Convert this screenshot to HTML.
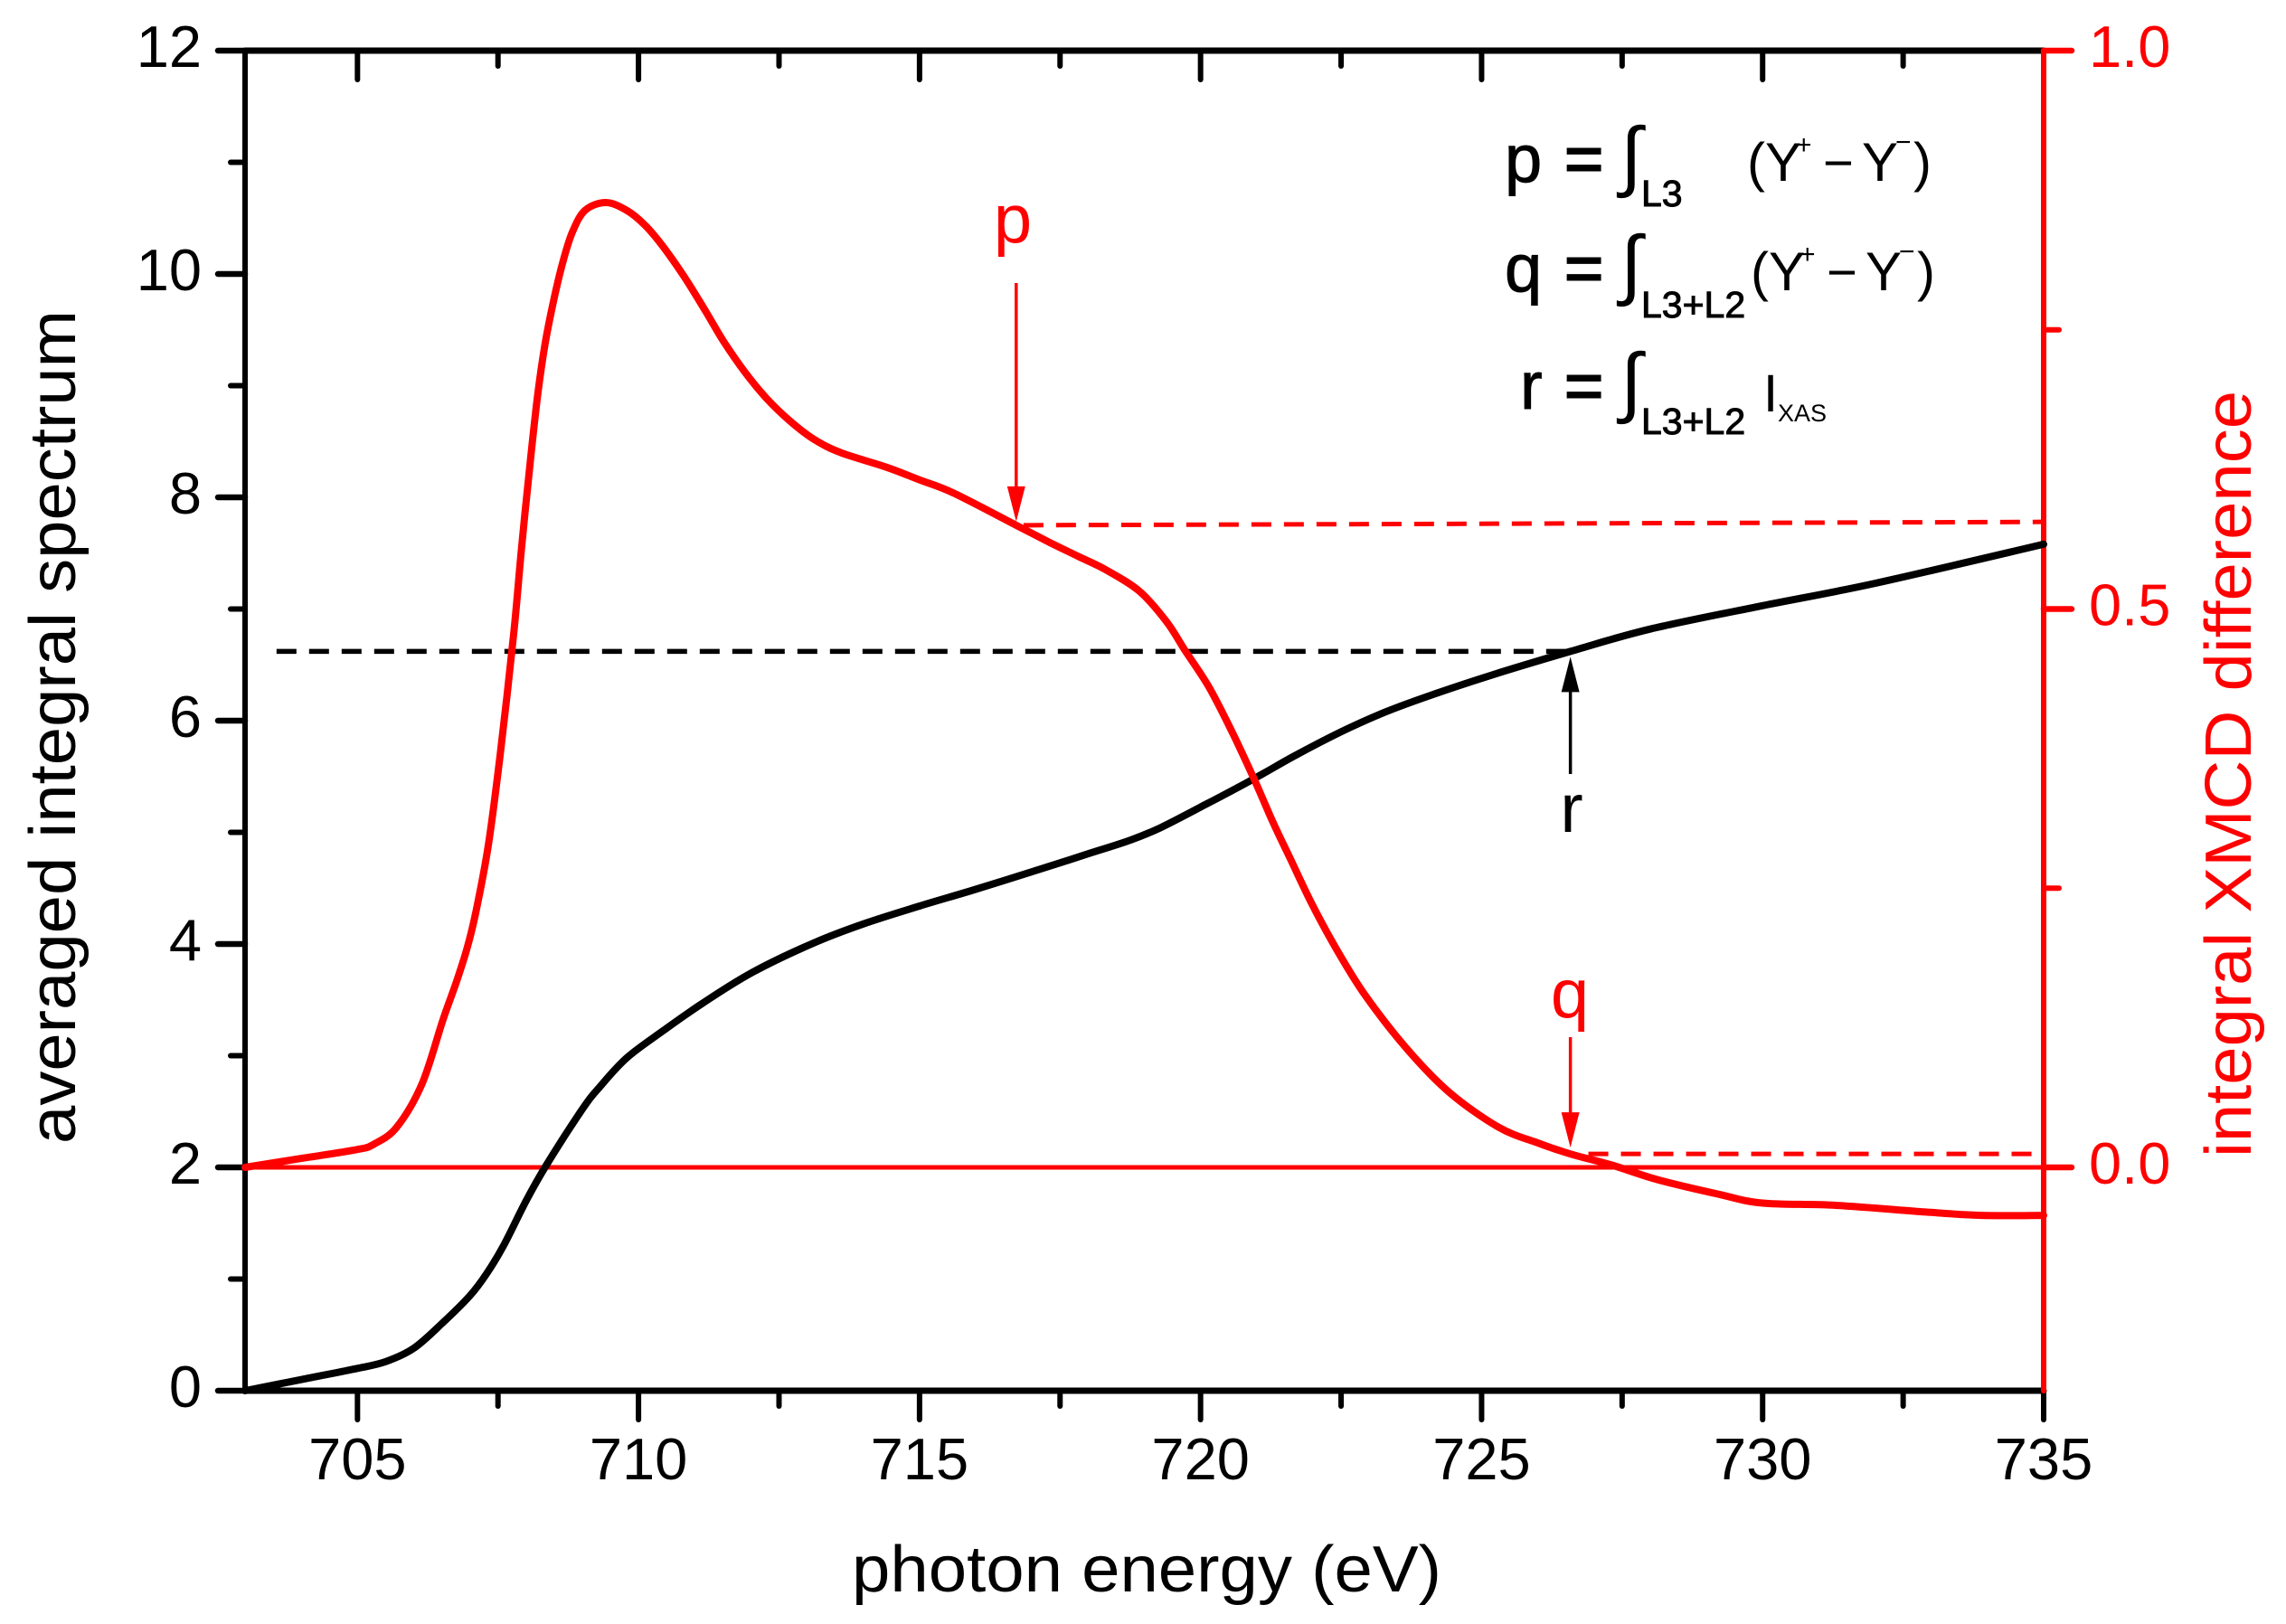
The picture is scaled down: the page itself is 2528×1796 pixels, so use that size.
<!DOCTYPE html>
<html>
<head>
<meta charset="utf-8">
<style>
html,body{margin:0;padding:0;background:#fff;width:2528px;height:1796px;overflow:hidden}
svg{display:block}
text{font-family:"Liberation Sans",sans-serif}
</style>
</head>
<body>
<svg id="chart" xmlns="http://www.w3.org/2000/svg" width="2528" height="1796" viewBox="0 0 2528 1796">
  <rect width="2528" height="1796" fill="#fff"/>
  <g id="axes"></g>
  <g id="marks"></g>

  <text x="1268" y="1760" font-size="72" text-anchor="middle" textLength="652" lengthAdjust="spacingAndGlyphs">photon energy (eV)</text>
  <text transform="translate(83,804) rotate(-90)" font-size="72" text-anchor="middle" textLength="922" lengthAdjust="spacingAndGlyphs">averaged integral spectrum</text>
  <text transform="translate(2489,856) rotate(-90)" font-size="72" fill="#f00" text-anchor="middle" textLength="848" lengthAdjust="spacingAndGlyphs">integral XMCD difference</text>

  <text x="1120" y="268" font-size="76" fill="#f00" text-anchor="middle">p</text>
  <text x="1736" y="1125" font-size="76" fill="#f00" text-anchor="middle">q</text>
  <text x="1738" y="920" font-size="76" text-anchor="middle">r</text>

  <g>
    <text x="1664" y="201" font-size="74" stroke="#000" stroke-width="1">p</text>
    <text x="1730" y="201" font-size="74" stroke="#000" stroke-width="2">=</text>
    <text x="1792" y="201" font-size="86" font-family="Liberation Serif">∫</text>
    <text x="1815" y="228" font-size="41" stroke="#000" stroke-width="1">L3</text>
    <text x="1932" y="200" font-size="60">(Y</text>
    <text x="1986" y="170" font-size="30">+</text>
    <text x="2016" y="200" font-size="58">−</text>
    <text x="2059" y="200" font-size="60">Y</text>
    <text x="2096" y="167" font-size="30">−</text>
    <text x="2116" y="200" font-size="60">)</text>
  </g>
  <g>
    <text x="1664" y="322" font-size="74" stroke="#000" stroke-width="1">q</text>
    <text x="1730" y="322" font-size="74" stroke="#000" stroke-width="2">=</text>
    <text x="1792" y="321" font-size="86" font-family="Liberation Serif">∫</text>
    <text x="1815" y="351" font-size="41" stroke="#000" stroke-width="1">L3+L2</text>
    <text x="1936" y="321" font-size="60">(Y</text>
    <text x="1990" y="291" font-size="30">+</text>
    <text x="2020" y="321" font-size="58">−</text>
    <text x="2063" y="321" font-size="60">Y</text>
    <text x="2100" y="288" font-size="30">−</text>
    <text x="2120" y="321" font-size="60">)</text>
  </g>
  <g>
    <text x="1681" y="452" font-size="74" stroke="#000" stroke-width="1">r</text>
    <text x="1730" y="452" font-size="74" stroke="#000" stroke-width="2">=</text>
    <text x="1792" y="451" font-size="86" font-family="Liberation Serif">∫</text>
    <text x="1815" y="480" font-size="41" stroke="#000" stroke-width="1">L3+L2</text>
    <text x="1950" y="455" font-size="58">I</text>
    <text x="1966" y="466" font-size="27">XAS</text>
  </g>
</svg>

<script>
var xTicks = [705, 710, 715, 720, 725, 730, 735];
var xMinorTicks = [707.5, 712.5, 717.5, 722.5, 727.5, 732.5];
var yLeftTicks = [0, 2, 4, 6, 8, 10, 12];
var yLeftMinorTicks = [1, 3, 5, 7, 9, 11];
var yRightTicks = ["0.0", "0.5", "1.0"];
var yRightMinorTicks = [0.25, 0.75];

var blackEnergy = [703, 704, 705, 705.5, 706, 706.5, 707, 707.3, 707.6, 708, 708.36, 709, 709.31, 709.79, 710.43, 711.14, 712.04, 713.12, 714, 715, 716, 717.14, 717.95, 718.75, 719.28, 720.09, 720.95, 721.69, 722.5, 723.3, 724.11, 725.19, 726.58, 728, 730, 732, 735];
var blackSignal = [0, 0.1, 0.2, 0.26, 0.38, 0.6, 0.85, 1.05, 1.3, 1.7, 2.02, 2.52, 2.72, 2.98, 3.22, 3.47, 3.75, 4.01, 4.18, 4.34, 4.49, 4.67, 4.8, 4.93, 5.04, 5.25, 5.48, 5.69, 5.9, 6.08, 6.23, 6.41, 6.62, 6.82, 7.03, 7.23, 7.58];

var redEnergy = [703, 704, 705, 705.3, 705.7, 706.15, 706.52, 706.76, 706.96, 707.12, 707.33, 707.54, 707.78, 707.92, 708.08, 708.21, 708.34, 708.49, 708.65, 708.82, 709.05, 709.42, 709.79, 710.11, 710.43, 710.82, 711.19, 711.51, 711.88, 712.27, 712.68, 713.12, 713.6, 714.41, 714.98, 715.6, 716.72, 717.3, 717.83, 718.32, 718.91, 719.39, 719.71, 720.15, 720.57, 720.95, 721.28, 721.6, 721.97, 722.4, 722.93, 723.69, 724.43, 725.3, 725.99, 726.58, 727.32, 728.13, 729.21, 730, 731.3, 732.9, 733.9, 735];
var redSignal = [0, 0.008, 0.016, 0.021, 0.036, 0.075, 0.132, 0.166, 0.198, 0.232, 0.289, 0.37, 0.478, 0.555, 0.635, 0.693, 0.738, 0.776, 0.81, 0.837, 0.857, 0.864, 0.857, 0.844, 0.825, 0.797, 0.767, 0.74, 0.713, 0.689, 0.669, 0.652, 0.64, 0.627, 0.616, 0.604, 0.575, 0.56, 0.547, 0.535, 0.516, 0.489, 0.464, 0.43, 0.389, 0.348, 0.31, 0.276, 0.237, 0.197, 0.154, 0.105, 0.067, 0.036, 0.022, 0.012, 0.002, -0.011, -0.024, -0.032, -0.034, -0.04, -0.043, -0.043];

var pLevel = [716.85, 735, 0.575, 0.578];
var qLevel = [726.9, 735, 0.012, 0.012];
var rLevel = [703.56, 726.6, 6.62];
var zeroLevel = [703, 735, 0];

var plot = {left: 271, right: 2260, top: 56, bottom: 1538};
function sx(v) { return plot.left + (v - 703) / 32 * (plot.right - plot.left); }
function syL(v) { return plot.bottom - v / 12 * (plot.bottom - plot.top); }
function syR(v) { return plot.bottom - (v + 0.2) / 1.2 * (plot.bottom - plot.top); }

var NS = "http://www.w3.org/2000/svg";
var axes = document.getElementById("axes");
var marks = document.getElementById("marks");

function mk(parent, tag, props, txt) {
  var n = document.createElementNS(NS, tag);
  for (var k in props) n.setAttribute(k, props[k]);
  if (txt !== undefined) n.textContent = txt;
  parent.appendChild(n);
  return n;
}
function seg(parent, x1, y1, x2, y2, col, w, cap) {
  return mk(parent, "line", {x1: x1, y1: y1, x2: x2, y2: y2, stroke: col, "stroke-width": w, "stroke-linecap": cap || "round"});
}
function curve(xs, ys, fy, col) {
  var pts = xs.map(function (x, i) { return [sx(x), fy(ys[i])]; });
  var d = "M" + pts[0][0].toFixed(1) + " " + pts[0][1].toFixed(1);
  for (var i = 0; i < pts.length - 1; i++) {
    var p0 = pts[Math.max(i - 1, 0)], p1 = pts[i], p2 = pts[i + 1], p3 = pts[Math.min(i + 2, pts.length - 1)];
    var c1x = p1[0] + (p2[0] - p0[0]) / 6, c1y = p1[1] + (p2[1] - p0[1]) / 6;
    var c2x = p2[0] - (p3[0] - p1[0]) / 6, c2y = p2[1] - (p3[1] - p1[1]) / 6;
    d += "C" + c1x.toFixed(1) + " " + c1y.toFixed(1) + " " + c2x.toFixed(1) + " " + c2y.toFixed(1) + " " + p2[0].toFixed(1) + " " + p2[1].toFixed(1);
  }
  return mk(marks, "path", {d: d, fill: "none", stroke: col, "stroke-width": 8, "stroke-linejoin": "round", "stroke-linecap": "round"});
}
function arrow(xv, y1, y2, col) {
  var x = sx(xv), dir = y2 > y1 ? 1 : -1;
  seg(marks, x, y1, x, y2 - dir * 30, col, 3.5, "butt");
  return mk(marks, "path", {d: "M" + (x - 10) + " " + (y2 - dir * 39) + "L" + (x + 10) + " " + (y2 - dir * 39) + "L" + x + " " + y2 + "Z", fill: col});
}

var el;
el = seg(axes, plot.left, plot.top, plot.right, plot.top, "#000", 7);


el = seg(axes, plot.left, plot.bottom, plot.right, plot.bottom, "#000", 7);


el = seg(axes, plot.left, plot.top, plot.left, plot.bottom, "#000", 6);



xTicks.forEach(function (v) {
  var e = seg(axes, sx(v), plot.bottom, sx(v), plot.bottom + 32, "#000", 6);
  
  
  e = seg(axes, sx(v), plot.top, sx(v), plot.top + 32, "#000", 6);
  
  
  e = mk(axes, "text", {x: sx(v), y: plot.bottom + 98, "font-size": 65, "text-anchor": "middle"}, String(v));
  
  
});
xMinorTicks.forEach(function (v) {
  var e = seg(axes, sx(v), plot.bottom, sx(v), plot.bottom + 17, "#000", 6);
  
  
  e = seg(axes, sx(v), plot.top, sx(v), plot.top + 17, "#000", 6);
  
  
});
yLeftTicks.forEach(function (v) {
  var e = seg(axes, plot.left - 30, syL(v), plot.left, syL(v), "#000", 6.5);
  
  
  e = mk(axes, "text", {x: plot.left - 48, y: syL(v) + 18, "font-size": 65, "text-anchor": "end"}, String(v));
  
  
});
yLeftMinorTicks.forEach(function (v) {
  var e = seg(axes, plot.left - 16, syL(v), plot.left, syL(v), "#000", 6);
  
  
});
yRightTicks.forEach(function (t) {
  var v = parseFloat(t);
  var e = seg(axes, plot.right, syR(v), plot.right + 31, syR(v), "#f00", 6.5);
  
  
  e = mk(axes, "text", {x: plot.right + 50, y: syR(v) + 18, "font-size": 65, fill: "#f00"}, t);
  
  
});
yRightMinorTicks.forEach(function (v) {
  var e = seg(axes, plot.right, syR(v), plot.right + 17, syR(v), "#f00", 6);
  
  
});
el = seg(axes, plot.right, plot.top, plot.right, plot.bottom, "#f00", 6);



el = seg(marks, sx(zeroLevel[0]), syR(zeroLevel[2]), sx(zeroLevel[1]), syR(zeroLevel[2]), "#f00", 5, "butt");



el = seg(marks, sx(rLevel[0]), syL(rLevel[2]), sx(rLevel[1]), syL(rLevel[2]), "#000", 5.5, "butt");
el.setAttribute("stroke-dasharray", "22 14");



el = seg(marks, sx(pLevel[0]), syR(pLevel[2]), sx(pLevel[1]), syR(pLevel[3]), "#f00", 5, "butt");
el.setAttribute("stroke-dasharray", "22 14");



el = seg(marks, sx(qLevel[0]), syR(qLevel[2]), sx(qLevel[1]), syR(qLevel[3]), "#f00", 5, "butt");
el.setAttribute("stroke-dasharray", "22 14");



el = curve(blackEnergy, blackSignal, syL, "#000");



el = curve(redEnergy, redSignal, syR, "#f00");



el = arrow(716.72, 313, syR(pLevel[2]) - 4, "#f00");



el = arrow(726.58, 1147, syR(qLevel[2]) - 7, "#f00");



el = arrow(726.58, 856, syL(rLevel[2]) + 6, "#000");


</script>
</body>
</html>
